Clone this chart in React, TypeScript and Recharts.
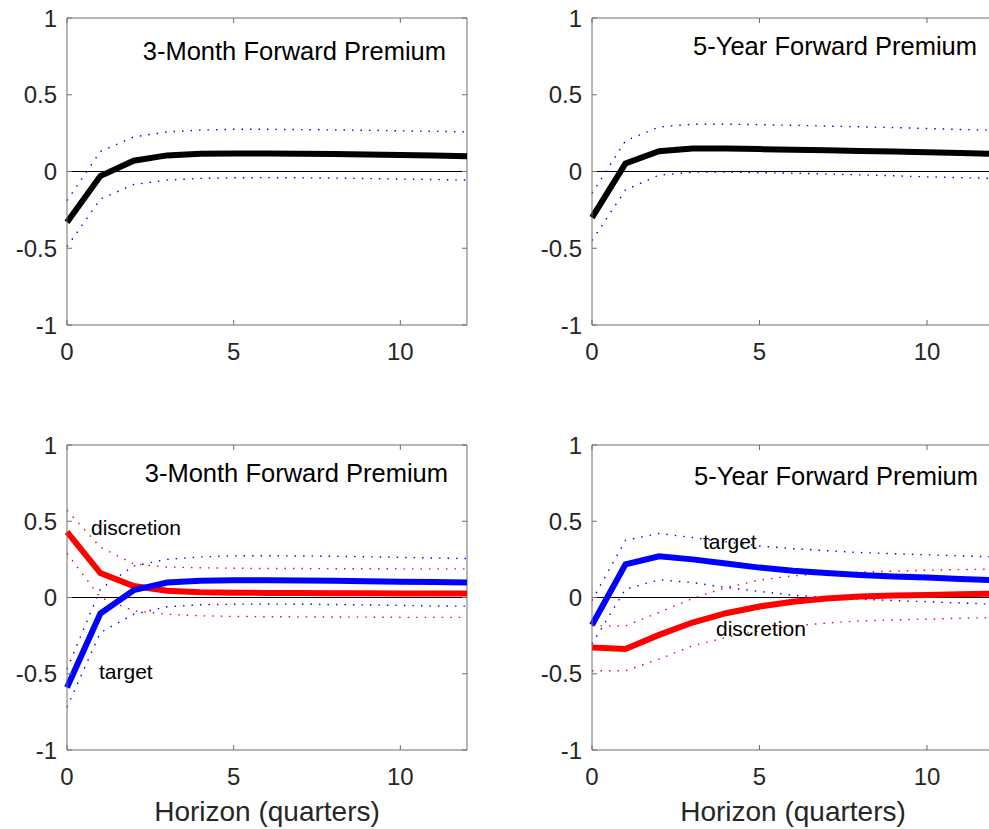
import React from 'react';
import { LineChart, Line, XAxis, YAxis, ReferenceLine } from 'recharts';

// horizon in quarters
const horizon = [0, 1, 2, 3, 4, 5, 6, 7, 8, 9, 10, 11, 12];
const xTicks = [0, 5, 10];
const yTicks = [-1, -0.5, 0, 0.5, 1];

// top-left: 3-month forward premium, pooled response
const mid3m = [-0.33, -0.03, 0.07, 0.105, 0.115, 0.118, 0.118, 0.116, 0.114, 0.111, 0.108, 0.105, 0.1];
const hi3m = [-0.19, 0.13, 0.225, 0.258, 0.27, 0.275, 0.275, 0.273, 0.271, 0.268, 0.265, 0.262, 0.258];
const lo3m = [-0.49, -0.18, -0.085, -0.056, -0.045, -0.041, -0.04, -0.041, -0.043, -0.046, -0.049, -0.052, -0.056];

// top-right: 5-year forward premium, pooled response
const mid5y = [-0.3, 0.052, 0.132, 0.15, 0.15, 0.146, 0.142, 0.138, 0.134, 0.13, 0.125, 0.12, 0.115];
const hi5y = [-0.143, 0.2, 0.29, 0.308, 0.308, 0.305, 0.301, 0.296, 0.291, 0.286, 0.28, 0.274, 0.268];
const lo5y = [-0.45, -0.12, -0.024, -0.004, -0.004, -0.007, -0.011, -0.016, -0.022, -0.028, -0.035, -0.04, -0.045];

// bottom-left: 3-month, target vs discretion
const disc3m = [0.43, 0.16, 0.075, 0.045, 0.035, 0.031, 0.03, 0.029, 0.028, 0.028, 0.027, 0.027, 0.026];
const discHi3m = [0.572, 0.33, 0.22, 0.2, 0.195, 0.192, 0.19, 0.19, 0.189, 0.189, 0.188, 0.188, 0.188];
const discLo3m = [0.29, 0.0, -0.087, -0.11, -0.12, -0.124, -0.126, -0.127, -0.128, -0.129, -0.13, -0.13, -0.13];
const targ3m = [-0.59, -0.105, 0.048, 0.098, 0.11, 0.113, 0.113, 0.112, 0.11, 0.107, 0.104, 0.101, 0.098];
const targHi3m = [-0.47, 0.055, 0.207, 0.25, 0.266, 0.273, 0.274, 0.272, 0.27, 0.267, 0.263, 0.259, 0.255];
const targLo3m = [-0.72, -0.23, -0.11, -0.061, -0.048, -0.044, -0.043, -0.044, -0.046, -0.049, -0.052, -0.055, -0.057];

// bottom-right: 5-year, target vs discretion
const targ5y = [-0.18, 0.218, 0.27, 0.25, 0.223, 0.196, 0.175, 0.16, 0.148, 0.138, 0.131, 0.122, 0.113];
const targHi5y = [-0.02, 0.375, 0.42, 0.393, 0.365, 0.338, 0.32, 0.307, 0.295, 0.287, 0.28, 0.273, 0.266];
const targLo5y = [-0.305, 0.055, 0.116, 0.098, 0.066, 0.04, 0.015, 0.0, -0.011, -0.02, -0.028, -0.036, -0.044];
const disc5y = [-0.328, -0.338, -0.245, -0.164, -0.103, -0.059, -0.028, -0.007, 0.007, 0.013, 0.017, 0.022, 0.026];
const discHi5y = [-0.186, -0.186, -0.098, -0.007, 0.066, 0.114, 0.142, 0.157, 0.166, 0.173, 0.179, 0.183, 0.186];
const discLo5y = [-0.48, -0.48, -0.404, -0.317, -0.262, -0.218, -0.186, -0.168, -0.153, -0.147, -0.142, -0.136, -0.131];

const FONT = '"Liberation Sans", Arial, Helvetica, sans-serif';
const BOX = '#6f6f6f';
const TEXT = '#262626';
const BLUE = '#0000ff';
const RED = '#ff0000';
const BLACK = '#000000';

const MARGIN_TOP = 20;
const Y_W = 60;
const MARGIN_RIGHT = 15;

type Series = { key: string; color: string; dotted?: boolean };

const buildRows = (cols: Record<string, number[]>) =>
  horizon.map((h, i) => {
    const row: Record<string, number> = { h };
    Object.keys(cols).forEach(k => {
      row[k] = cols[k][i];
    });
    return row;
  });

interface PanelProps {
  plotLeft: number;
  plotTop: number;
  plotW: number;
  plotH: number;
  rows: Record<string, number>[];
  series: Series[];
}

const Panel: React.FC<PanelProps> = ({ plotLeft, plotTop, plotW, plotH, rows, series }) => {
  const xAxisH = 45;
  const width = Y_W + plotW + MARGIN_RIGHT;
  const height = MARGIN_TOP + plotH + xAxisH + 5;

  const xTick = (p: any) => (
    <g>
      <line x1={p.x} x2={p.x} y1={p.y} y2={p.y - 5} stroke={BOX} strokeWidth={1} />
      <line x1={p.x} x2={p.x} y1={p.y - plotH} y2={p.y - plotH + 5} stroke={BOX} strokeWidth={1} />
      <text x={p.x} y={p.y + 26} textAnchor="middle" dominantBaseline="central"
        fill={TEXT} fontSize={24} fontFamily={FONT}>{p.payload.value}</text>
    </g>
  );

  const yTick = (p: any) => (
    <g>
      <line x1={p.x} x2={p.x + 5} y1={p.y} y2={p.y} stroke={BOX} strokeWidth={1} />
      <line x1={p.x + plotW} x2={p.x + plotW - 5} y1={p.y} y2={p.y} stroke={BOX} strokeWidth={1} />
      <text x={p.x - 10} y={p.y} textAnchor="end" dominantBaseline="central"
        fill={TEXT} fontSize={24} fontFamily={FONT}>{p.payload.value}</text>
    </g>
  );

  return (
    <div style={{ position: 'absolute', left: plotLeft - Y_W, top: plotTop - MARGIN_TOP }}>
      <LineChart width={width} height={height} data={rows}
        margin={{ top: MARGIN_TOP, right: MARGIN_RIGHT, bottom: 5, left: 0 }}>
        <XAxis type="number" dataKey="h" domain={[0, 12]} ticks={xTicks} height={xAxisH}
          tickSize={0} tickMargin={0} tick={xTick} axisLine={{ stroke: BOX, strokeWidth: 1 }} />
        <YAxis type="number" domain={[-1, 1]} ticks={yTicks} width={Y_W}
          tickSize={0} tickMargin={0} tick={yTick} axisLine={{ stroke: BOX, strokeWidth: 1 }} />
        <ReferenceLine y={1} stroke={BOX} strokeWidth={1} />
        <ReferenceLine x={12} stroke={BOX} strokeWidth={1} />
        <ReferenceLine y={0} stroke={BLACK} strokeWidth={1} />
        {series.filter(s => s.dotted).map(s => (
          <Line key={s.key} type="linear" dataKey={s.key} stroke={s.color} strokeWidth={1.4}
            strokeDasharray="1.5 7" dot={false} isAnimationActive={false} />
        ))}
        {series.filter(s => !s.dotted).map(s => (
          <Line key={s.key} type="linear" dataKey={s.key} stroke={s.color} strokeWidth={6}
            dot={false} isAnimationActive={false} />
        ))}
      </LineChart>
    </div>
  );
};

const rowsTL = buildRows({ mid: mid3m, hi: hi3m, lo: lo3m });
const rowsTR = buildRows({ mid: mid5y, hi: hi5y, lo: lo5y });
const rowsBL = buildRows({ disc: disc3m, discHi: discHi3m, discLo: discLo3m, targ: targ3m, targHi: targHi3m, targLo: targLo3m });
const rowsBR = buildRows({ disc: disc5y, discHi: discHi5y, discLo: discLo5y, targ: targ5y, targHi: targHi5y, targLo: targLo5y });

const pooledSeries: Series[] = [
  { key: 'hi', color: BLUE, dotted: true },
  { key: 'lo', color: BLUE, dotted: true },
  { key: 'mid', color: BLACK },
];

const splitSeries: Series[] = [
  { key: 'discHi', color: RED, dotted: true },
  { key: 'discLo', color: RED, dotted: true },
  { key: 'targHi', color: BLUE, dotted: true },
  { key: 'targLo', color: BLUE, dotted: true },
  { key: 'disc', color: RED },
  { key: 'targ', color: BLUE },
];

const App: React.FC = () => {
  const txt = { fontFamily: FONT };
  return (
    <div style={{ position: 'absolute', left: 0, top: 0, width: 989, height: 829, overflow: 'hidden', background: '#fff' }}>
      <Panel plotLeft={67} plotTop={18} plotW={400} plotH={307} rows={rowsTL} series={pooledSeries} />
      <Panel plotLeft={592} plotTop={18} plotW={402} plotH={307} rows={rowsTR} series={pooledSeries} />
      <Panel plotLeft={67} plotTop={445} plotW={400} plotH={305} rows={rowsBL} series={splitSeries} />
      <Panel plotLeft={592} plotTop={445} plotW={402} plotH={305} rows={rowsBR} series={splitSeries} />
      <svg width={989} height={829} style={{ position: 'absolute', left: 0, top: 0, pointerEvents: 'none' }}>
        <g style={txt} fill="#000">
          <text x={446} y={60} textAnchor="end" fontSize={25.5}>3-Month Forward Premium</text>
          <text x={977} y={55} textAnchor="end" fontSize={25.5}>5-Year Forward Premium</text>
          <text x={448} y={482} textAnchor="end" fontSize={25.5}>3-Month Forward Premium</text>
          <text x={978} y={485} textAnchor="end" fontSize={25.5}>5-Year Forward Premium</text>
          <text x={91} y={535} fontSize={21}>discretion</text>
          <text x={99} y={679} fontSize={21}>target</text>
          <text x={703} y={549} fontSize={21}>target</text>
          <text x={716} y={636} fontSize={21}>discretion</text>
        </g>
        <g style={txt} fill={TEXT}>
          <text x={267} y={821} textAnchor="middle" fontSize={28}>Horizon (quarters)</text>
          <text x={793} y={821} textAnchor="middle" fontSize={28}>Horizon (quarters)</text>
        </g>
      </svg>
    </div>
  );
};

export default App;
